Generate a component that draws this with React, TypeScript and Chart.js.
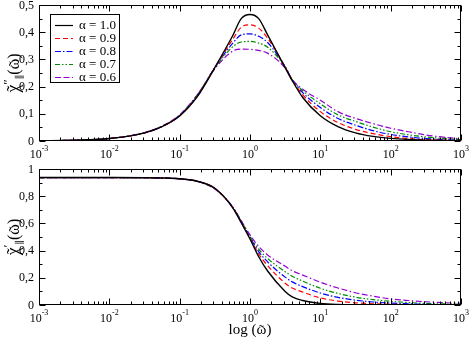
import React, { useEffect, useRef } from 'react';
import { Chart, registerables } from 'chart.js';
Chart.register(...registerables);

// ---------- data ----------
const omega = [0.001, 0.00316, 0.01, 0.0316, 0.0562, 0.1, 0.178, 0.316, 0.562, 0.75, 1, 1.33, 1.78, 3.16, 3.98, 5.62, 10, 17.8, 31.6, 56.2, 100, 178, 316, 562, 1000];

const alphaLabels = ['α = 1.0', 'α = 0.9', 'α = 0.8', 'α = 0.7', 'α = 0.6'];

// imaginary part  chi''
const imagA10 = [0.001, 0.003, 0.009, 0.030, 0.053, 0.092, 0.163, 0.270, 0.385, 0.450, 0.465, 0.450, 0.390, 0.270, 0.222, 0.160, 0.093, 0.053, 0.030, 0.017, 0.0095, 0.0053, 0.003, 0.0017, 0.001];
const imagA09 = [0.001, 0.003, 0.009, 0.030, 0.053, 0.093, 0.165, 0.270, 0.372, 0.418, 0.427, 0.415, 0.378, 0.272, 0.224, 0.170, 0.108, 0.068, 0.043, 0.027, 0.016, 0.009, 0.005, 0.003, 0.002];
const imagA08 = [0.001, 0.003, 0.009, 0.030, 0.053, 0.094, 0.167, 0.270, 0.358, 0.390, 0.394, 0.385, 0.362, 0.273, 0.225, 0.178, 0.123, 0.083, 0.058, 0.038, 0.024, 0.015, 0.009, 0.005, 0.003];
const imagA07 = [0.001, 0.003, 0.009, 0.030, 0.054, 0.095, 0.169, 0.268, 0.345, 0.364, 0.366, 0.360, 0.345, 0.273, 0.226, 0.185, 0.137, 0.096, 0.072, 0.051, 0.034, 0.023, 0.015, 0.009, 0.005];
const imagA06 = [0.001, 0.003, 0.009, 0.031, 0.055, 0.096, 0.170, 0.265, 0.330, 0.338, 0.337, 0.333, 0.323, 0.268, 0.226, 0.190, 0.150, 0.108, 0.083, 0.064, 0.047, 0.034, 0.022, 0.014, 0.008];

// real part  chi'
const realA10 = [0.937, 0.937, 0.937, 0.936, 0.934, 0.928, 0.910, 0.858, 0.718, 0.605, 0.485, 0.355, 0.250, 0.100, 0.060, 0.033, 0.012, 0.004, 0.0015, 0.0005, 0.0002, 0, 0, 0, 0];
const realA09 = [0.937, 0.937, 0.937, 0.936, 0.934, 0.928, 0.910, 0.858, 0.720, 0.610, 0.490, 0.375, 0.290, 0.160, 0.125, 0.095, 0.052, 0.029, 0.016, 0.009, 0.005, 0.003, 0.002, 0.0012, 0.0008];
const realA08 = [0.937, 0.937, 0.937, 0.936, 0.934, 0.928, 0.910, 0.857, 0.722, 0.613, 0.497, 0.392, 0.317, 0.205, 0.170, 0.135, 0.088, 0.056, 0.036, 0.022, 0.014, 0.009, 0.005, 0.003, 0.002];
const realA07 = [0.937, 0.937, 0.937, 0.936, 0.934, 0.928, 0.909, 0.855, 0.723, 0.617, 0.505, 0.410, 0.342, 0.245, 0.212, 0.175, 0.123, 0.085, 0.058, 0.040, 0.027, 0.018, 0.012, 0.008, 0.005];
const realA06 = [0.937, 0.937, 0.937, 0.936, 0.934, 0.927, 0.908, 0.852, 0.724, 0.620, 0.515, 0.430, 0.368, 0.285, 0.252, 0.220, 0.168, 0.125, 0.090, 0.065, 0.045, 0.033, 0.024, 0.017, 0.012];

const imagSeries = [imagA10, imagA09, imagA08, imagA07, imagA06];
const realSeries = [realA10, realA09, realA08, realA07, realA06];

const decadeTicks = [0.001, 0.01, 0.1, 1, 10, 100, 1000];
const decadeExponents = ['-3', '-2', '-1', '0', '1', '2', '3'];
const yTicksTop = [0, 0.1, 0.2, 0.3, 0.4, 0.5];
const yLabelsTop = ['0', '0,1', '0,2', '0,3', '0,4', '0,5'];
const yTicksBottom = [0, 0.2, 0.4, 0.6, 0.8, 1];
const yLabelsBottom = ['0', '0,2', '0,4', '0,6', '0,8', '1'];

// ---------- styles ----------
const colors = ['#000000', '#ff0000', '#0000ff', '#008b00', '#9400d3'];
const dashes: number[][] = [[], [5, 3], [6, 2, 1.5, 2], [5, 2, 1.5, 2, 1.5, 2], [6, 2.5, 6, 2.5, 1.5, 2.5]];
const SERIF = "'Liberation Serif', 'DejaVu Serif', serif";

type Run = { text: string; size: number; dy?: number; tilde?: boolean };

function runsWidth(ctx: CanvasRenderingContext2D, runs: Run[]) {
  let w = 0;
  for (const r of runs) {
    ctx.font = `${r.size}px ${SERIF}`;
    w += ctx.measureText(r.text).width;
  }
  return w;
}

function drawRuns(ctx: CanvasRenderingContext2D, runs: Run[], cx: number, y: number) {
  const total = runsWidth(ctx, runs);
  let x = cx - total / 2;
  ctx.textAlign = 'left';
  ctx.textBaseline = 'alphabetic';
  for (const r of runs) {
    ctx.font = `${r.size}px ${SERIF}`;
    const w = ctx.measureText(r.text).width;
    ctx.fillText(r.text, x, y + (r.dy || 0));
    if (r.tilde) {
      ctx.textAlign = 'center';
      ctx.fillText('˜', x + w / 2, y + (r.dy || 0) + 1);
      ctx.textAlign = 'left';
    }
    x += w;
  }
}

type PanelOpts = {
  yTicks: number[];
  yLabels: string[];
  yMinorStep: number;
  yMax: number;
  yTitle: Run[];
  xTitle?: Run[];
  legend?: boolean;
};

function makePlugin(p: PanelOpts) {
  return {
    id: 'frameAndText',
    afterDraw(chart: any) {
      const ctx: CanvasRenderingContext2D = chart.ctx;
      const { left, right, top, bottom } = chart.chartArea;
      const xs = chart.scales.x;
      const ys = chart.scales.y;
      ctx.save();
      ctx.strokeStyle = '#000';
      ctx.lineWidth = 1;
      ctx.setLineDash([]);
      const L = Math.round(left) + 0.5;
      const R = Math.round(right) - 0.5;
      const T = Math.round(top) + 0.5;
      const B = Math.round(bottom) - 0.5;
      ctx.strokeRect(L, T, R - L, B - T);
      ctx.beginPath();
      decadeTicks.forEach((d, i) => {
        const px = Math.round(xs.getPixelForValue(d)) + 0.5;
        ctx.moveTo(px, B); ctx.lineTo(px, B - 6);
        ctx.moveTo(px, T); ctx.lineTo(px, T + 6);
        if (i < decadeTicks.length - 1) {
          for (let k = 2; k <= 9; k++) {
            const mx = Math.round(xs.getPixelForValue(d * k)) + 0.5;
            ctx.moveTo(mx, B); ctx.lineTo(mx, B - 3);
            ctx.moveTo(mx, T); ctx.lineTo(mx, T + 3);
          }
        }
      });
      const nMinor = Math.round(p.yMax / p.yMinorStep);
      for (let j = 0; j <= nMinor; j++) {
        const v = j * p.yMinorStep;
        const isMajor = p.yTicks.some((t) => Math.abs(t - v) < 1e-6);
        const py = Math.round(ys.getPixelForValue(v)) + 0.5;
        const len = isMajor ? 6 : 3;
        ctx.moveTo(L, py); ctx.lineTo(L + len, py);
        ctx.moveTo(R, py); ctx.lineTo(R - len, py);
      }
      ctx.stroke();

      // y tick labels
      ctx.fillStyle = '#000';
      ctx.font = `12px ${SERIF}`;
      ctx.textAlign = 'right';
      ctx.textBaseline = 'middle';
      p.yTicks.forEach((t, i) => {
        ctx.fillText(p.yLabels[i], left - 5, ys.getPixelForValue(t) + 0.5);
      });

      // x tick labels 10^n
      decadeTicks.forEach((d, i) => {
        const px = xs.getPixelForValue(d);
        ctx.font = `12px ${SERIF}`;
        const w1 = ctx.measureText('10').width;
        ctx.font = `8px ${SERIF}`;
        const w2 = ctx.measureText(decadeExponents[i]).width;
        const x0 = px - (w1 + w2) / 2;
        ctx.textAlign = 'left';
        ctx.textBaseline = 'alphabetic';
        ctx.font = `12px ${SERIF}`;
        ctx.fillText('10', x0, bottom + 17);
        ctx.font = `8px ${SERIF}`;
        ctx.fillText(decadeExponents[i], x0 + w1, bottom + 10);
      });

      // y title (rotated)
      ctx.save();
      ctx.translate(19, (top + bottom) / 2);
      ctx.rotate(-Math.PI / 2);
      drawRuns(ctx, p.yTitle, 0, 0);
      ctx.restore();

      // x title
      if (p.xTitle) {
        drawRuns(ctx, p.xTitle, (left + right) / 2, bottom + 29);
      }

      // legend
      if (p.legend) {
        const bx = 50.5, by = 14.5, bw = 69, bh = 68;
        ctx.fillStyle = '#fff';
        ctx.fillRect(bx, by, bw, bh);
        ctx.strokeStyle = '#000';
        ctx.lineWidth = 1;
        ctx.strokeRect(bx, by, bw, bh);
        alphaLabels.forEach((lab, i) => {
          const yy = 25.5 + i * 13;
          ctx.beginPath();
          ctx.strokeStyle = colors[i];
          ctx.lineWidth = 1.2;
          ctx.setLineDash(dashes[i]);
          ctx.moveTo(55, yy);
          ctx.lineTo(73, yy);
          ctx.stroke();
          ctx.setLineDash([]);
          ctx.fillStyle = '#000';
          ctx.font = `13px ${SERIF}`;
          ctx.textAlign = 'left';
          ctx.textBaseline = 'middle';
          ctx.fillText(lab, 79, yy + 0.5);
        });
      }
      ctx.restore();
    },
  };
}

function buildConfig(series: number[][], yMax: number, padding: any, plugin: any): any {
  return {
    type: 'line',
    data: {
      datasets: series.map((vals, i) => ({
        label: alphaLabels[i],
        data: omega.map((w, k) => ({ x: w, y: vals[k] })),
        borderColor: colors[i],
        borderDash: dashes[i],
        borderWidth: i === 0 ? 1.4 : 1.2,
        pointRadius: 0,
        fill: false,
        cubicInterpolationMode: 'monotone',
      })),
    },
    options: {
      animation: false,
      responsive: false,
      devicePixelRatio: 1,
      layout: { padding },
      plugins: { legend: { display: false }, tooltip: { enabled: false } },
      scales: {
        x: { type: 'logarithmic', min: 0.001, max: 1000, display: false },
        y: { type: 'linear', min: 0, max: yMax, display: false },
      },
    },
    plugins: [plugin],
  };
}

export default function App() {
  const topRef = useRef<HTMLCanvasElement>(null);
  const botRef = useRef<HTMLCanvasElement>(null);

  useEffect(() => {
    const topPlugin = makePlugin({
      yTicks: yTicksTop,
      yLabels: yLabelsTop,
      yMinorStep: 0.05,
      yMax: 0.5,
      legend: true,
      yTitle: [
        { text: 'χ', size: 18, tilde: true },
        { text: '′′', size: 12, dy: -7 },
        { text: '∥', size: 10, dy: 4 },
        { text: '(', size: 16 },
        { text: 'ω', size: 16, tilde: true },
        { text: ')', size: 16 },
      ],
    });
    const botPlugin = makePlugin({
      yTicks: yTicksBottom,
      yLabels: yLabelsBottom,
      yMinorStep: 0.1,
      yMax: 1,
      yTitle: [
        { text: 'χ', size: 18, tilde: true },
        { text: '′', size: 12, dy: -7 },
        { text: '∥', size: 10, dy: 4 },
        { text: '(', size: 16 },
        { text: 'ω', size: 16, tilde: true },
        { text: ')', size: 16 },
      ],
      xTitle: [
        { text: 'log (', size: 15 },
        { text: 'ω', size: 15, tilde: true },
        { text: ')', size: 15 },
      ],
    });
    const c1 = new Chart(topRef.current!, buildConfig(imagSeries, 0.5, { left: 39, right: 11, top: 5, bottom: 19 }, topPlugin));
    const c2 = new Chart(botRef.current!, buildConfig(realSeries, 1, { left: 39, right: 11, top: 9, bottom: 35 }, botPlugin));
    return () => {
      c1.destroy();
      c2.destroy();
    };
  }, []);

  return (
    <div style={{ position: 'absolute', left: 0, top: 0, width: 472, height: 340, background: '#fff' }}>
      <canvas ref={topRef} width={472} height={160} style={{ position: 'absolute', left: 0, top: 0, width: 472, height: 160 }} />
      <canvas ref={botRef} width={472} height={180} style={{ position: 'absolute', left: 0, top: 160, width: 472, height: 180 }} />
    </div>
  );
}
